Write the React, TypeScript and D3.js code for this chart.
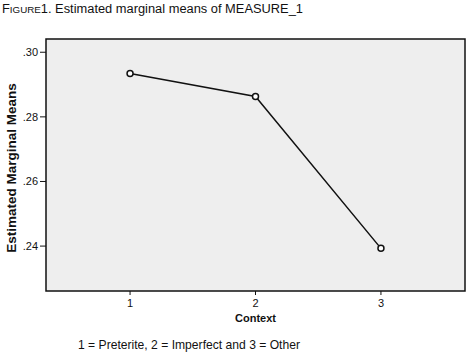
import React from "react";
import * as d3 from "d3";

const categories = [1, 2, 3];
const means = [0.2934, 0.2863, 0.2393];
const yTicks = [0.24, 0.26, 0.28, 0.3];
const titleText = "Estimated marginal means of MEASURE_1";
const footnote = "1 = Preterite, 2 = Imperfect and 3 = Other";

export default function App() {
  const W = 470, H = 356;
  const left = 46, right = 465, top = 39, bottom = 291;
  const x = d3.scaleLinear().domain([0.33, 3.67]).range([left, right]);
  const y = d3.scaleLinear().domain([0.2261, 0.3041]).range([bottom, top]);
  const line = d3.line<number>().x((_, i) => x(categories[i])).y((d) => y(d));
  const fmt = (v: number) => d3.format(".2f")(v).replace(/^0/, "");
  const narrow = "'Liberation Sans Narrow', 'Liberation Sans', Arial, sans-serif";
  return (
    <svg width={W} height={H} style={{ position: "absolute", left: 0, top: 0, background: "#fff" }}>
      <text x={2} y={13} fontFamily={narrow} fontSize={12.5} fill="#111" textLength={301} lengthAdjust="spacingAndGlyphs">
        F<tspan fontSize={9.5}>IGURE</tspan>1. {titleText}
      </text>
      <rect x={left} y={top} width={right - left} height={bottom - top} fill="#eeeeee" stroke="#111" strokeWidth={1.5} />
      {yTicks.map((t) => (
        <g key={t}>
          <line x1={left - 6} x2={left} y1={y(t)} y2={y(t)} stroke="#111" />
          <text x={left - 8} y={y(t) + 4} textAnchor="end" fontFamily="'Liberation Sans', Arial, sans-serif" fontSize={11} fill="#111">{fmt(t)}</text>
        </g>
      ))}
      {categories.map((c) => (
        <g key={c}>
          <line x1={x(c)} x2={x(c)} y1={bottom} y2={bottom + 4} stroke="#111" />
          <text x={x(c)} y={bottom + 16} textAnchor="middle" fontFamily="'Liberation Sans', Arial, sans-serif" fontSize={11} fill="#111">{c}</text>
        </g>
      ))}
      <text x={x(2)} y={322} textAnchor="middle" fontFamily="'Liberation Sans', Arial, sans-serif" fontSize={11} fontWeight="bold" fill="#111">Context</text>
      <text transform={`translate(15.5,168) rotate(-90)`} textAnchor="middle" fontFamily="'Liberation Sans', Arial, sans-serif" fontSize={13.5} fontWeight="bold" fill="#111">Estimated Marginal Means</text>
      <path d={line(means) || ""} fill="none" stroke="#111" strokeWidth={1.5} />
      {means.map((m, i) => (
        <circle key={i} cx={x(categories[i])} cy={y(m)} r={3} fill="#fff" stroke="#111" strokeWidth={1.5} />
      ))}
      <text x={78} y={349} fontFamily={narrow} fontSize={13.5} fill="#111" textLength={222} lengthAdjust="spacingAndGlyphs">{footnote}</text>
    </svg>
  );
}
